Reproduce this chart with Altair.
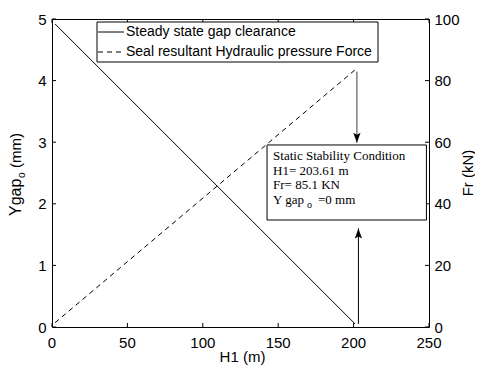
import altair as alt
import pandas as pd

# ---- data ----
H1 = [2.0, 201.0]
ygap = [4.92, 0.05]          # Steady state gap clearance (mm), left axis
fr = [1.4, 83.5]             # Seal resultant hydraulic pressure force (kN), right axis

x_ticks = [0, 50, 100, 150, 200, 250]
y_ticks = [0, 1, 2, 3, 4, 5]
fr_ticks = [0, 20, 40, 60, 80, 100]

legend_labels = ["Steady state gap clearance", "Seal resultant Hydraulic pressure Force"]
note_lines = ["Static Stability Condition", "H1= 203.61 m", "Fr= 85.1 KN"]

# annotation geometry in data units
box_x = [142.6, 248.3]
box_y = [2.955, 1.737]
arrow_top = {"x": 202.2, "from": 82.9, "to": 59.8}     # Fr units
arrow_bot = {"x": 203.2, "from": 0.05, "to": 1.6}      # Ygap units

W, H = 377, 308
SANS = "Liberation Sans"
SERIF = "Liberation Serif"

xs = alt.Scale(domain=[0, 250], nice=False, zero=False)
ys = alt.Scale(domain=[0, 5], nice=False)
frs = alt.Scale(domain=[0, 100], nice=False)

df = pd.DataFrame({"H1": H1, "Ygap": ygap, "Fr": fr})
one = pd.DataFrame({"a": [0]})

solid = alt.Chart(df).mark_line(color="black", strokeWidth=1).encode(
    x=alt.X("H1:Q", scale=xs, axis=None),
    y=alt.Y("Ygap:Q", scale=ys, axis=alt.Axis(
        orient="left", values=y_ticks, title=None, grid=False, domain=False, tickSize=0,
        labelFont=SANS, labelFontSize=15, labelPadding=6, labelColor="black", labelFlush=False)),
)

dashed = alt.Chart(df).mark_line(color="black", strokeWidth=1, strokeDash=[5, 4]).encode(
    x=alt.X("H1:Q", scale=xs, axis=None),
    y=alt.Y("Fr:Q", scale=frs, axis=alt.Axis(
        orient="right", values=fr_ticks, title=None, grid=False, domain=False, tickSize=0,
        labelFont=SANS, labelFontSize=15, labelPadding=5, labelColor="black", labelFlush=False)),
)

xt = pd.DataFrame({"t": x_ticks})
yt = pd.DataFrame({"t": y_ticks})
xtick_b = alt.Chart(xt).mark_rule(color="black", strokeWidth=1).encode(
    x=alt.X("t:Q", scale=xs, axis=None), y=alt.value(H), y2=alt.value(H - 4))
xtick_t = alt.Chart(xt).mark_rule(color="black", strokeWidth=1).encode(
    x=alt.X("t:Q", scale=xs, axis=None), y=alt.value(0), y2=alt.value(4))
ytick_l = alt.Chart(yt).mark_rule(color="black", strokeWidth=1).encode(
    y=alt.Y("t:Q", scale=ys, axis=None), x=alt.value(0), x2=alt.value(4))
ytick_r = alt.Chart(yt).mark_rule(color="black", strokeWidth=1).encode(
    y=alt.Y("t:Q", scale=ys, axis=None), x=alt.value(W), x2=alt.value(W - 4))
xlabels = alt.Chart(xt).mark_text(font=SANS, fontSize=15, align="center",
                                  baseline="alphabetic", color="black").encode(
    x=alt.X("t:Q", scale=xs, axis=None), y=alt.value(H + 21), text="t:Q")
xtitle = alt.Chart(one).mark_text(text="H1 (m)", font=SANS, fontSize=15, align="center",
                                  baseline="alphabetic", color="black").encode(
    x=alt.value(W / 2 + 2), y=alt.value(H + 35))

# ---- legend ----
leg_box = alt.Chart(one).mark_rect(fill="white", stroke="black", strokeWidth=1).encode(
    x=alt.value(45), x2=alt.value(326), y=alt.value(3), y2=alt.value(43))
leg_l1 = alt.Chart(one).mark_rule(color="black", strokeWidth=1).encode(
    x=alt.value(46), x2=alt.value(72), y=alt.value(13))
leg_l2 = alt.Chart(one).mark_rule(color="black", strokeWidth=1, strokeDash=[5, 4]).encode(
    x=alt.value(46), x2=alt.value(72), y=alt.value(33))
leg_t1 = alt.Chart(one).mark_text(text=legend_labels[0], font=SANS, fontSize=14, align="left",
                                  baseline="middle", color="black").encode(
    x=alt.value(74), y=alt.value(13))
leg_t2 = alt.Chart(one).mark_text(text=legend_labels[1], font=SANS, fontSize=14, align="left",
                                  baseline="middle", color="black").encode(
    x=alt.value(74), y=alt.value(33))

# ---- annotation box ----
bdf = pd.DataFrame({"x": [box_x[0]], "x2": [box_x[1]], "y": [box_y[0]], "y2": [box_y[1]]})
note_box = alt.Chart(bdf).mark_rect(fill="white", stroke="black", strokeWidth=1).encode(
    x=alt.X("x:Q", scale=xs, axis=None), x2="x2:Q",
    y=alt.Y("y:Q", scale=ys, axis=None), y2="y2:Q")

def note_text(txt, dx, dy, size=13):
    return alt.Chart(bdf).mark_text(text=txt, font=SERIF, fontSize=size, align="left",
                                    baseline="alphabetic", color="black", dx=dx, dy=dy).encode(
        x=alt.X("x:Q", scale=xs, axis=None), y=alt.Y("y:Q", scale=ys, axis=None))

notes = [note_text(t, 6, 15 + 14.6 * i) for i, t in enumerate(note_lines)]
notes += [note_text("Y gap", 6, 59), note_text("o", 40, 63, size=10), note_text("=0 mm", 51, 59)]

# ---- arrows ----
adf_t = pd.DataFrame({"x": [arrow_top["x"]], "y": [arrow_top["from"]], "y2": [arrow_top["to"]]})
adf_b = pd.DataFrame({"x": [arrow_bot["x"]], "y": [arrow_bot["from"]], "y2": [arrow_bot["to"]]})
shaft_t = alt.Chart(adf_t).mark_rule(color="#404040", strokeWidth=1).encode(
    x=alt.X("x:Q", scale=xs, axis=None), y=alt.Y("y:Q", scale=frs, axis=None), y2="y2:Q")
head_t = alt.Chart(adf_t).mark_point(shape="M0,0L-0.36,-1L0,-0.8L0.36,-1Z", filled=True,
                                     size=400, color="black", opacity=1).encode(
    x=alt.X("x:Q", scale=xs, axis=None), y=alt.Y("y2:Q", scale=frs, axis=None))
shaft_b = alt.Chart(adf_b).mark_rule(color="black", strokeWidth=1).encode(
    x=alt.X("x:Q", scale=xs, axis=None), y=alt.Y("y:Q", scale=ys, axis=None), y2="y2:Q")
head_b = alt.Chart(adf_b).mark_point(shape="M0,0L-0.36,1L0,0.8L0.36,1Z", filled=True,
                                     size=400, color="black", opacity=1).encode(
    x=alt.X("x:Q", scale=xs, axis=None), y=alt.Y("y2:Q", scale=ys, axis=None))

# ---- axis titles with subscript ----
yt1 = alt.Chart(one).mark_text(text="Ygap", font=SANS, fontSize=16, angle=270, align="left",
                               baseline="alphabetic", color="black").encode(
    x=alt.value(-31), y=alt.value(197))
yt2 = alt.Chart(one).mark_text(text="o", font=SANS, fontSize=10, angle=270, align="left",
                               baseline="alphabetic", color="black").encode(
    x=alt.value(-27), y=alt.value(159))
yt3 = alt.Chart(one).mark_text(text="(mm)", font=SANS, fontSize=15, angle=270, align="left",
                               baseline="alphabetic", color="black").encode(
    x=alt.value(-31), y=alt.value(149))
frt = alt.Chart(one).mark_text(text="Fr (kN)", font=SANS, fontSize=15, angle=270, align="center",
                               baseline="middle", color="black").encode(
    x=alt.value(416), y=alt.value(154))

chart = alt.layer(
    solid, dashed, xtick_b, xtick_t, ytick_l, ytick_r, xlabels, xtitle,
    note_box, *notes, shaft_t, head_t, shaft_b, head_b,
    leg_box, leg_l1, leg_l2, leg_t1, leg_t2,
    yt1, yt2, yt3, frt,
).resolve_scale(y="independent").properties(
    width=W, height=H, autosize="none",
    padding={"left": 44, "top": 11, "right": 46, "bottom": 39},
).configure_view(stroke="black", strokeWidth=1)

chart.save("out.html", embed_options={"renderer": "svg", "actions": False})
